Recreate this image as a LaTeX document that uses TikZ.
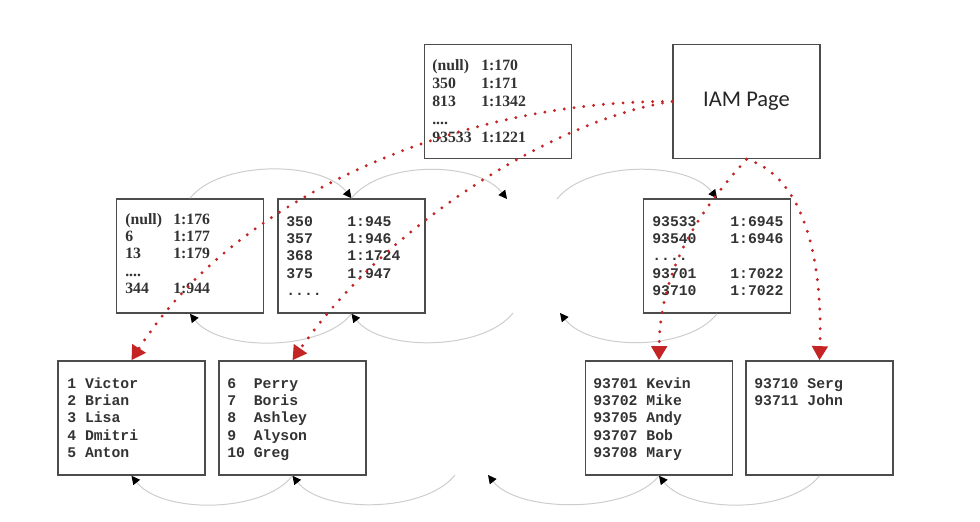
\documentclass[tikz,border=0pt]{standalone}
\usepackage{fontspec}
\setmainfont{Liberation Serif}
\setmonofont{Liberation Mono}
\newfontfamily\calibri{Carlito}
\usetikzlibrary{arrows.meta}
\definecolor{iamred}{RGB}{196,36,36}
\definecolor{linkgray}{RGB}{205,205,205}
\tikzset{
  page/.style={draw=black!70, line width=1.1pt, minimum width=3.675cm, minimum height=2.85cm, inner sep=0pt},
  rows/.style={anchor=base west, inner sep=0pt, text=black!80},
  serifrows/.style={rows, font=\bfseries\fontsize{11.2}{12.4}\selectfont},
  monorows/.style={rows, font=\ttfamily\bfseries\fontsize{10.5}{12.4}\selectfont},
  iamlink/.style={draw=iamred, line width=2.3pt, line cap=round, dash pattern=on 0pt off 7pt, -{Triangle[length=10pt,width=11pt]}},
  pagelink/.style={draw=linkgray, line width=0.7pt, -{Triangle[length=6pt,width=6pt,black]}}
}
\begin{document}
\begin{tikzpicture}[x=0.025cm, y=-0.025cm]
  \fill[white] (0,0) rectangle (980,521);
  \useasboundingbox (0,0) rectangle (980,521);

  % root and IAM
  \node[page] (root) at (498,101.5) {};
  \node[page, font=\calibri\fontsize{16}{19}\selectfont, text=black!85] (iam) at (746.5,101.5) {IAM Page};

  % intermediate level
  \node[page] (idx1) at (190,256) {};
  \node[page] (idx2) at (351.5,256) {};
  \node[page] (idx3) at (717,256) {};

  % leaf level
  \node[page] (leaf1) at (131.5,418) {};
  \node[page] (leaf2) at (292.5,418) {};
  \node[page] (leaf3) at (659,418) {};
  \node[page] (leaf4) at (819.5,418) {};

  % page contents
  \node[serifrows, font=\bfseries\fontsize{11.2}{12.8}\selectfont] (rootTxt) at (432,70) {\begin{tabular}[t]{@{}p{1.225cm}@{}l@{}}(null)&1:170\\350&1:171\\813&1:1342\\....&\\93533&1:1221\end{tabular}};
  \node[serifrows] (idx1Txt) at (125,224) {\begin{tabular}[t]{@{}p{1.2cm}@{}l@{}}(null)&1:176\\6&1:177\\13&1:179\\....&\\344&1:944\end{tabular}};
  \node[monorows] (idx2Txt) at (286,226) {\begin{tabular}[t]{@{}p{1.525cm}@{}l@{}}350&1:945\\357&1:946\\368&1:1724\\375&1:947\\....&\end{tabular}};
  \node[monorows] (idx3Txt) at (652,226) {\begin{tabular}[t]{@{}p{1.95cm}@{}l@{}}93533&1:6945\\93540&1:6946\\....&\\93701&1:7022\\93710&1:7022\end{tabular}};
  \node[monorows] (leaf1Txt) at (67,388) {\begin{tabular}[t]{@{}l@{}}1~Victor\\2~Brian\\3~Lisa\\4~Dmitri\\5~Anton\end{tabular}};
  \node[monorows] (leaf2Txt) at (227,388) {\begin{tabular}[t]{@{}l@{}}6~~Perry\\7~~Boris\\8~~Ashley\\9~~Alyson\\10~Greg\end{tabular}};
  \node[monorows] (leaf3Txt) at (593,388) {\begin{tabular}[t]{@{}l@{}}93701~Kevin\\93702~Mike\\93705~Andy\\93707~Bob\\93708~Mary\end{tabular}};
  \node[monorows] (leaf4Txt) at (754,388) {\begin{tabular}[t]{@{}l@{}}93710~Serg\\93711~John\end{tabular}};

  % ends of links into the missing page
  \coordinate (gapA) at (507,199);
  \coordinate (gapB) at (557,199);
  \coordinate (gapC) at (513,313);
  \coordinate (gapD) at (560,313);
  \coordinate (gapE) at (455,475);
  \coordinate (gapF) at (488,475);

  % next / prev page links
  \draw[pagelink] (idx1.north) .. controls +(30,-38) and +(-30,-38) .. (idx2.north);
  \draw[pagelink] (idx2.north) .. controls +(30,-38) and +(-30,-38) .. (gapA);
  \draw[pagelink] (gapB) .. controls +(30,-38) and +(-30,-38) .. (idx3.north);
  \draw[pagelink] (idx2.south) .. controls +(-30,38) and +(30,38) .. (idx1.south);
  \draw[pagelink] (gapC) .. controls +(-30,38) and +(30,38) .. (idx2.south);
  \draw[pagelink] (idx3.south) .. controls +(-30,38) and +(30,38) .. (gapD);
  \draw[pagelink] (leaf2.south) .. controls +(-30,38) and +(30,38) .. (leaf1.south);
  \draw[pagelink] (gapE) .. controls +(-30,38) and +(30,38) .. (leaf2.south);
  \draw[pagelink] (leaf3.south) .. controls +(-30,38) and +(30,38) .. (gapF);
  \draw[pagelink] (leaf4.south) .. controls +(-30,38) and +(30,38) .. (leaf3.south);

  % IAM allocation links
  \draw[iamlink] (iam.west) .. controls (470,100) and (240,190) .. (leaf1.north);
  \draw[iamlink] (iam.west) .. controls (560,118) and (390,220) .. (leaf2.north);
  \draw[iamlink] (iam.south) .. controls (710,200) and (660,260) .. (leaf3.north);
  \draw[iamlink] (iam.south) .. controls (800,175) and (823,250) .. (leaf4.north);
\end{tikzpicture}
\end{document}
